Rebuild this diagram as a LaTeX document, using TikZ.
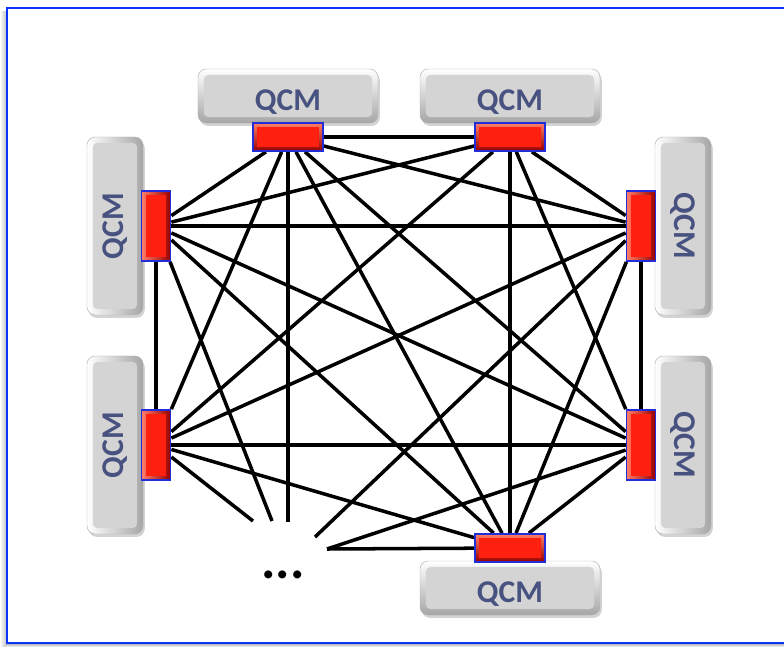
\documentclass[tikz,border=0pt]{standalone}
\usepackage{fontspec}
\setmainfont{Carlito}
\usetikzlibrary{shadows,backgrounds}

\definecolor{qcmtext}{RGB}{72,82,128}
\definecolor{frameblue}{RGB}{10,50,250}
\definecolor{portblue}{RGB}{35,45,215}
\definecolor{portface}{RGB}{255,32,16}
\definecolor{portlight}{RGB}{255,125,105}
\definecolor{portdark}{RGB}{150,0,0}
\definecolor{boxface}{RGB}{212,212,212}

\tikzset{
  link/.style={line width=3pt, black},
  module/.style={rectangle, rounded corners=7pt, draw=gray!60, line width=0.4pt,
    inner sep=0pt, text=qcmtext, font=\bfseries\fontsize{27}{27}\selectfont,
    drop shadow={shadow xshift=1.5pt, shadow yshift=-2.5pt, opacity=0.35},
    path picture={\fill[boxface, rounded corners=4pt]
      ([shift={(5pt,5pt)}]path picture bounding box.south west) rectangle
      ([shift={(-5pt,-5pt)}]path picture bounding box.north east);}},
  hmodule/.style={module, top color=white, bottom color=gray!70,
    minimum width=5.4cm, minimum height=1.62cm, text height=24pt, text depth=0pt},
  vmodule/.style={module, left color=white, right color=gray!70,
    minimum width=1.68cm, minimum height=5.34cm},
  port/.style={rectangle, draw=portblue, line width=1.5pt, inner sep=0pt,
    path picture={\fill[portface]
      ([shift={(3.5pt,3.5pt)}]path picture bounding box.south west) rectangle
      ([shift={(-3.5pt,-3.5pt)}]path picture bounding box.north east);}},
  hport/.style={port, top color=portlight, bottom color=portdark,
    minimum width=2.1cm, minimum height=0.84cm},
  vport/.style={port, left color=portlight, right color=portdark,
    minimum width=0.87cm, minimum height=2.1cm},
}

\begin{document}
\begin{tikzpicture}[x=0.03cm, y=-0.03cm]
\useasboundingbox (0,0) rectangle (784,647);

% modules
\node[hmodule] (mTLbox) at (288,96) {QCM};
\node[hmodule] (mTRbox) at (510,96) {QCM};
\node[hmodule] (mBbox)  at (510,588) {QCM};
\node[vmodule] (mLTbox) at (115,226) {\rotatebox{90}{QCM}};
\node[vmodule] (mLBbox) at (115,445) {\rotatebox{90}{QCM}};
\node[vmodule] (mRTbox) at (683,226) {\rotatebox{-90}{QCM}};
\node[vmodule] (mRBbox) at (683,445) {\rotatebox{-90}{QCM}};

% ports
\node[hport] (TL) at (288,137) {};
\node[hport] (TR) at (510,137) {};
\node[hport] (B)  at (510,548) {};
\node[vport] (LT) at (156,226) {};
\node[vport] (LB) at (156,445) {};
\node[vport] (RT) at (641,226) {};
\node[vport] (RB) at (641,445) {};

% further modules, not drawn
\node[font=\bfseries\fontsize{46}{46}\selectfont, inner sep=0pt] (dots) at (283,575) {...};
\coordinate (eTL) at (288,522);
\coordinate (eLT) at (272,521);
\coordinate (eLB) at (253,521);
\coordinate (eRT) at (315,537);
\coordinate (eRB) at (327,549);
\coordinate (eB)  at (327,549);

\begin{scope}[on background layer]
  % frame with its shadow
  \shade[left color=white, right color=gray!45] (0,12) rectangle (6,647);
  \shade[top color=gray!55, bottom color=white] (6,644) rectangle (784,647);
  \draw[frameblue, line width=1.7pt] (800,8) -- (7,8) -- (7,643) -- (800,643);

  % all-to-all links
  \foreach \a/\b in {TL/TR, TL/RT, TL/RB, TL/B, TL/LT, TL/LB,
                     TR/RT, TR/RB, TR/B, TR/LT, TR/LB,
                     RT/RB, RT/B, RT/LT, RT/LB,
                     RB/B, RB/LT, RB/LB,
                     B/LT, B/LB, LT/LB}
    \draw[link] (\a) -- (\b);
  % links running towards the further modules
  \foreach \a in {TL, LT, LB, RT, RB, B}
    \draw[link] (\a) -- (e\a);
\end{scope}
\end{tikzpicture}
\end{document}
